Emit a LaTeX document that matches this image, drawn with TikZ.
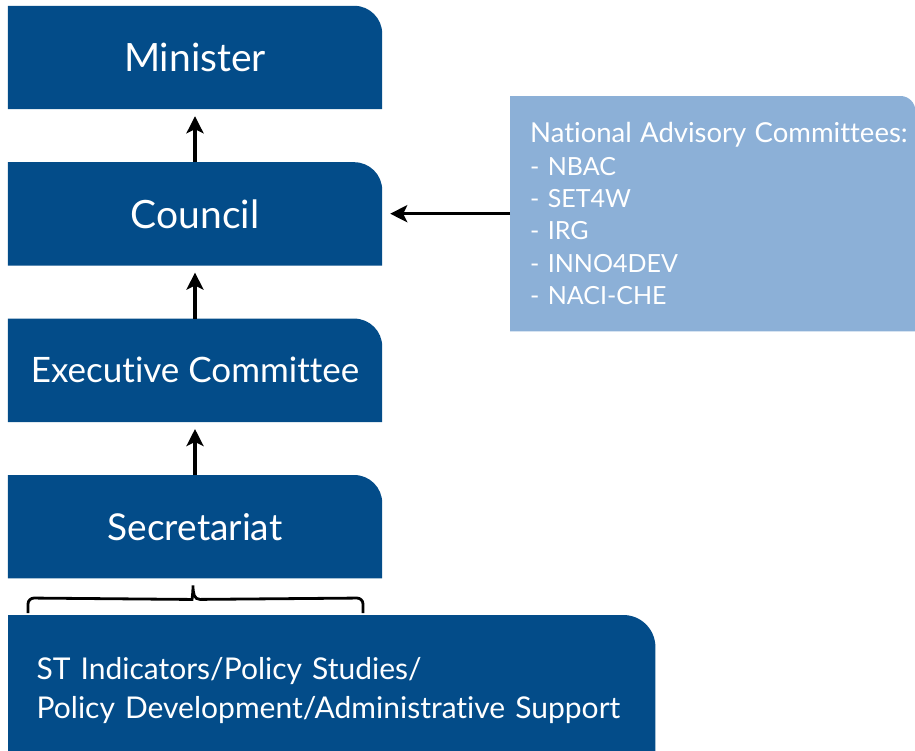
\documentclass[tikz,border=0pt]{standalone}
\usepackage{fontspec}
\setmainfont{Lato}[Ligatures=NoCommon]
\usetikzlibrary{positioning,backgrounds,arrows.meta}

\definecolor{naviblue}{HTML}{034C89}
\definecolor{paleblue}{HTML}{8CB0D7}

\begin{document}
\begin{tikzpicture}[x=1pt,y=-1pt,node distance=53pt]
\tikzstyle{every node}=[text=white,inner sep=0pt]
\tikzstyle{level}=[minimum width=374pt,minimum height=103pt,font=\fontsize{39}{46}\selectfont]
\tikzstyle{up}=[line width=3.5pt,-{Stealth[length=17pt,width=17pt,inset=4pt]},shorten >=7pt]
\tikzstyle{brace}=[line width=2.8pt,rounded corners=6pt]

\useasboundingbox (0,0) rectangle (915,750);

\node[level] (minister) at (195,57.5) {Minister};
\node[level,below=of minister] (council) {Council};
\node[level,below=of council,font=\fontsize{35}{42}\selectfont] (exec) {Executive Committee};
\node[level,below=of exec,font=\fontsize{37}{44}\selectfont] (secr) {Secretariat};

\node[anchor=north west,minimum width=647pt,minimum height=150pt,text width=590pt,align=left,
  font=\fontsize{30}{39}\selectfont] (support) at (8,615)
  {ST Indicators/Policy Studies/\\Policy Development/Administrative Support};

\node[anchor=north west,minimum width=405pt,minimum height=235pt,inner xsep=20pt,text width=365pt,
  align=left,font=\fontsize{25}{32.4}\selectfont] (nac) at (510,96)
  {\mbox{\fontsize{27.5}{32.4}\selectfont National Advisory Committees:}\\- NBAC\\- SET4W\\- IRG\\- INNO4DEV\\- NACI-CHE};

\begin{scope}[on background layer]
\foreach \n in {minister,council,exec,secr}
  \fill[naviblue] (\n.south west) -- (\n.north west) -- ([xshift=-28pt]\n.north east)
    arc[start angle=90,end angle=0,radius=28pt] -- (\n.south east) -- cycle;
\fill[naviblue] (support.south west) -- (support.north west) -- ([xshift=-32pt]support.north east)
  arc[start angle=90,end angle=0,radius=32pt] -- (support.south east) -- cycle;
\fill[paleblue] (nac.south west) -- (nac.north west) -- ([xshift=-15pt]nac.north east)
  arc[start angle=90,end angle=0,radius=15pt] -- (nac.south east) -- cycle;
\end{scope}

\draw[up] (council.north) -- (minister.south);
\draw[up] (exec.north) -- (council.south);
\draw[up] (secr.north) -- (exec.south);
\draw[up,shorten >=8pt] (nac.west) -- (nac.west -| council.east);

\draw[brace] ([shift={(20,-2)}]support.north west) -- ([shift={(20,-17)}]support.north west)
  -- ([shift={(-9,21)}]secr.south) [sharp corners] .. controls ([shift={(-3,21)}]secr.south)
  and ([shift={(-2,15)}]secr.south) .. ([shift={(-2,7)}]secr.south)
  .. controls ([shift={(-2,15)}]secr.south) and ([shift={(-1,21)}]secr.south) .. ([shift={(5,21)}]secr.south)
  [rounded corners=6pt] -- ([shift={(355,-17)}]support.north west) -- ([shift={(355,-2)}]support.north west);
\end{tikzpicture}
\end{document}
